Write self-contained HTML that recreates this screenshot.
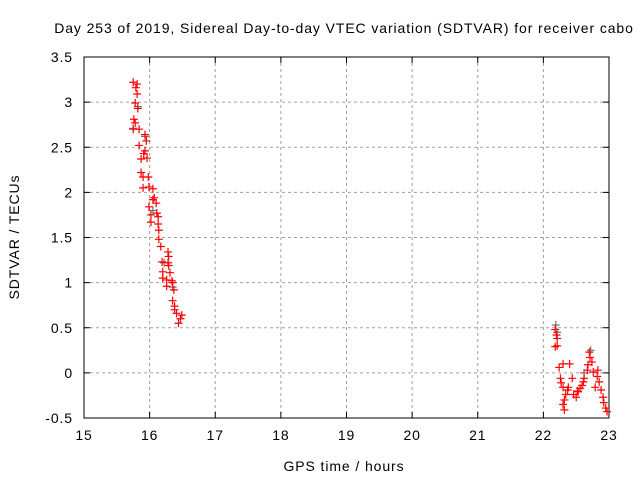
<!DOCTYPE html>
<html><head><meta charset="utf-8"><style>
body{margin:0;background:#fff;}
svg text{font-family:"Liberation Sans",sans-serif;font-size:14px;letter-spacing:0.9px;fill:#000;}
</style></head><body>
<svg id="chart" width="640" height="480">
<text x="344" y="33" text-anchor="middle">Day 253 of 2019, Sidereal Day-to-day VTEC variation (SDTVAR) for receiver cabo</text>
<text x="344" y="471" text-anchor="middle">GPS time / hours</text>
<text transform="translate(19,237) rotate(-90)" text-anchor="middle">SDTVAR / TECUs</text>
<g id="grid"></g><g id="axes"></g><g id="marks"></g>
</svg>
<script>
const xTicks=[15,16,17,18,19,20,21,22,23];
const yTicks=[-0.5,0,0.5,1,1.5,2,2.5,3,3.5];
const yTickLabels=["-0.5","0","0.5","1","1.5","2","2.5","3","3.5"];
const grayHours=[15.75,15.82,15.93,16.05,16.22,16.35,22.19,22.21,22.62,22.72];
const grayValues=[2.71,2.95,2.62,1.80,1.22,0.95,0.53,0.45,0.0,0.25];
const redHours=[15.75,15.81,15.79,15.81,15.78,15.82,15.76,15.78,15.75,15.84,15.93,15.95,15.84,15.93,15.91,15.87,15.96,15.87,15.90,15.98,15.90,15.99,16.05,16.07,16.10,16.05,15.99,16.11,16.02,16.13,16.02,16.13,16.14,16.14,16.17,16.28,16.29,16.19,16.28,16.29,16.20,16.31,16.20,16.26,16.34,16.35,16.26,16.37,16.35,16.38,16.38,16.41,16.49,16.47,16.44,
22.18,22.20,22.21,22.21,22.18,22.24,22.30,22.40,22.26,22.27,22.30,22.37,22.34,22.32,22.30,22.32,22.44,22.38,22.46,22.50,22.53,22.56,22.61,22.62,22.67,22.68,22.71,22.70,22.74,22.76,22.82,22.83,22.85,22.88,22.91,22.92,22.95,22.97,22.79,22.59,22.52];
const redValues=[3.22,3.20,3.16,3.09,2.99,2.93,2.81,2.77,2.70,2.70,2.64,2.57,2.52,2.46,2.43,2.37,2.38,2.22,2.17,2.17,2.05,2.06,2.04,1.94,1.88,1.92,1.84,1.77,1.75,1.73,1.67,1.65,1.58,1.48,1.40,1.34,1.29,1.23,1.22,1.19,1.12,1.11,1.05,1.03,1.02,1.00,0.96,0.92,0.80,0.74,0.70,0.66,0.64,0.60,0.55,
0.48,0.42,0.38,0.30,0.29,0.06,0.10,0.10,-0.06,-0.11,-0.16,-0.19,-0.24,-0.30,-0.35,-0.41,-0.06,-0.16,-0.24,-0.27,-0.21,-0.17,-0.10,-0.06,0.03,0.09,0.17,0.23,0.12,0.01,-0.04,0.03,-0.10,-0.19,-0.27,-0.33,-0.39,-0.43,-0.16,-0.14,-0.20];
const L=84,R=609,T=57,B=418;
const X=h=>L+(h-15)/8*(R-L);
const Y=v=>B-(v+0.5)/4*(B-T);
const NS="http://www.w3.org/2000/svg";
function mk(tag,attrs,parent){const e=document.createElementNS(NS,tag);for(const k in attrs)e.setAttribute(k,attrs[k]);parent.appendChild(e);return e;}
const grid=document.getElementById('grid'),axes=document.getElementById('axes'),marks=document.getElementById('marks');
xTicks.forEach((t,i)=>{
  if(i>0&&i<xTicks.length-1){const g=mk('line',{x1:X(t),x2:X(t),y1:T,y2:B,stroke:'#a0a0a0','stroke-dasharray':'3,3'},grid);
  
  }
  mk('line',{x1:X(t),x2:X(t),y1:B,y2:B-6,stroke:'#000'},axes);
  mk('line',{x1:X(t),x2:X(t),y1:T,y2:T+6,stroke:'#000'},axes);
  const tx=mk('text',{x:X(t),y:B+22,'text-anchor':'middle'},axes);tx.textContent=t;
  
  
});
yTicks.forEach((t,i)=>{
  if(i>0&&i<yTicks.length-1){const g=mk('line',{x1:L,x2:R,y1:Y(t),y2:Y(t),stroke:'#a0a0a0','stroke-dasharray':'3,3'},grid);
  
  }
  mk('line',{x1:L,x2:L+6,y1:Y(t),y2:Y(t),stroke:'#000'},axes);
  mk('line',{x1:R,x2:R-6,y1:Y(t),y2:Y(t),stroke:'#000'},axes);
  const tx=mk('text',{x:L-11,y:Y(t)+5,'text-anchor':'end'},axes);tx.textContent=yTickLabels[i];
  
  
});
const fr=mk('rect',{x:L,y:T,width:R-L,height:B-T,fill:'none',stroke:'#000'},axes);


function cross(h,v,c,name){const x=X(h),y=Y(v);const p=mk('path',{d:`M${x-4},${y}H${x+4}M${x},${y-4}V${y+4}`,stroke:c,'stroke-width':1.2,fill:'none'},marks);

}
grayHours.forEach((h,i)=>cross(h,grayValues[i],'#707070','gray-point'));
redHours.forEach((h,i)=>cross(h,redValues[i],'#ff0000','red-point'));
</script>
</body></html>
